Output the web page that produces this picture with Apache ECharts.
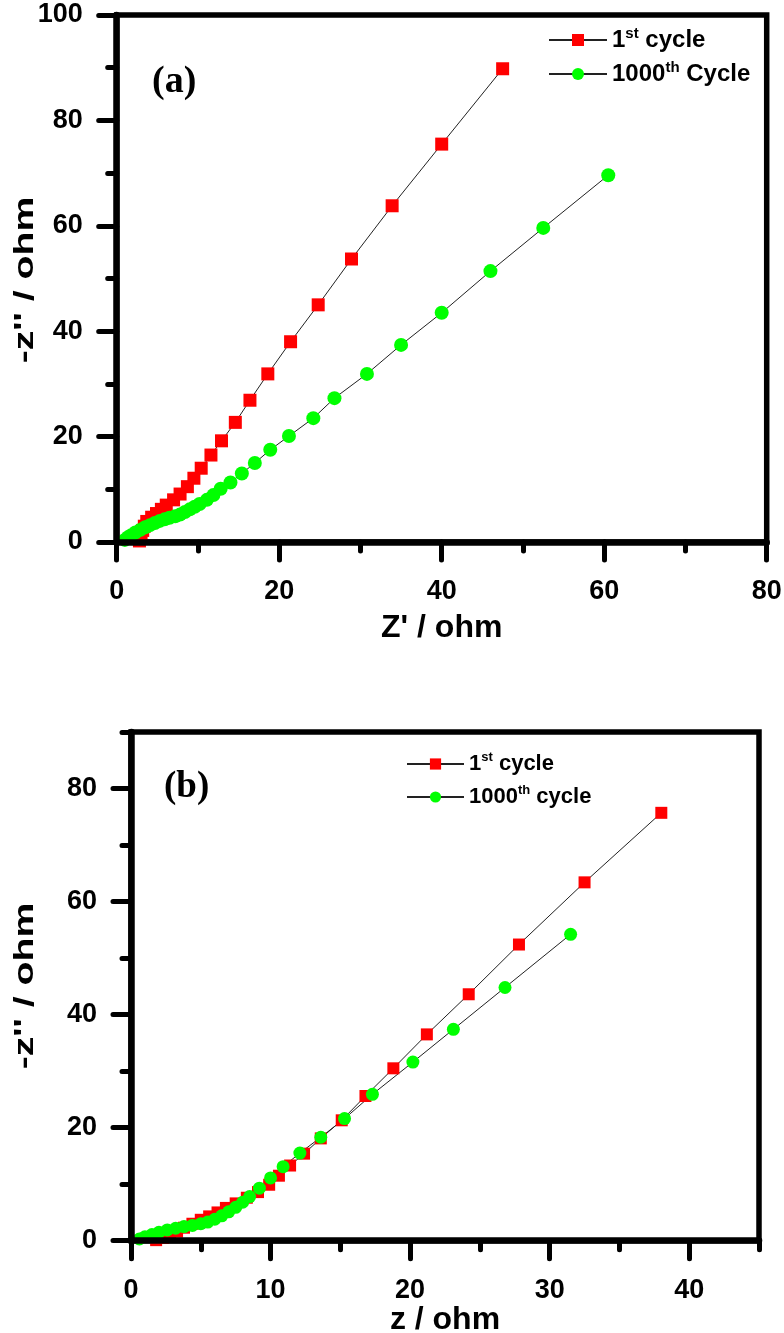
<!DOCTYPE html>
<html>
<head>
<meta charset="utf-8">
<script src="https://cdn.jsdelivr.net/npm/echarts@6/dist/echarts.min.js"></script>
<style>
html,body{margin:0;padding:0;background:#fff;}
#c{width:784px;height:1333px;}
</style>
</head>
<body>
<div id="c"></div>
<script>
// ---- Panel (a) data ----
var a1X = [2.8, 2.9, 3.0, 3.2, 3.4, 3.7, 4.3, 4.9, 5.5, 6.1, 7.0, 7.8, 8.7, 9.5, 10.4, 11.6, 12.9, 14.6, 16.4, 18.6, 21.4, 24.8, 28.9, 33.9, 40.0, 47.5];
var a1Y = [0.2, 0.8, 1.5, 2.2, 3.0, 3.9, 4.7, 5.4, 6.2, 7.0, 8.0, 9.1, 10.5, 12.1, 14.0, 16.5, 19.2, 22.7, 26.9, 31.9, 38.0, 45.0, 53.7, 63.8, 75.5, 89.8];
var a2X = [1.0, 1.4, 1.8, 2.3, 2.9, 3.5, 4.1, 4.7, 5.3, 5.9, 6.5, 7.2, 7.8, 8.4, 9.0, 9.6, 10.2, 11.1, 11.9, 12.8, 14.0, 15.4, 17.0, 18.9, 21.2, 24.2, 26.8, 30.8, 35.0, 40.0, 46.0, 52.5, 60.5];
var a2Y = [0.4, 0.9, 1.3, 1.8, 2.3, 2.8, 3.2, 3.6, 4.0, 4.3, 4.6, 4.9, 5.2, 5.7, 6.2, 6.7, 7.2, 8.0, 8.9, 10.1, 11.3, 13.0, 15.0, 17.5, 20.1, 23.5, 27.3, 31.9, 37.4, 43.5, 51.4, 59.6, 69.6];
// ---- Panel (b) data ----
var b1X = [1.8, 2.3, 2.8, 3.3, 3.8, 4.4, 5.0, 5.6, 6.2, 6.8, 7.5, 8.3, 9.1, 9.9, 10.6, 11.4, 12.4, 13.6, 15.1, 16.8, 18.8, 21.2, 24.2, 27.8, 32.5, 38.0];
var b1Y = [0.1, 0.5, 1.0, 1.6, 2.3, 3.0, 3.7, 4.3, 5.0, 5.8, 6.6, 7.6, 8.6, 9.9, 11.5, 13.3, 15.4, 18.1, 21.3, 25.6, 30.5, 36.5, 43.6, 52.4, 63.4, 75.7];
var b2X = [0.6, 1.0, 1.5, 2.0, 2.6, 3.2, 3.8, 4.4, 5.0, 5.5, 6.0, 6.5, 7.0, 7.5, 8.0, 8.5, 9.2, 10.0, 10.9, 12.1, 13.6, 15.3, 17.3, 20.2, 23.1, 26.8, 31.5];
var b2Y = [0.3, 0.7, 1.1, 1.5, 1.9, 2.2, 2.5, 2.7, 3.0, 3.3, 3.8, 4.4, 5.1, 5.9, 6.8, 7.8, 9.3, 11.1, 13.1, 15.5, 18.3, 21.6, 25.9, 31.6, 37.4, 44.8, 54.2];

// ---- ticks / labels ----
var xTicksA = [0, 20, 40, 60, 80];
var yTicksA = [0, 20, 40, 60, 80, 100];
var xTicksB = [0, 10, 20, 30, 40];
var yTicksB = [0, 20, 40, 60, 80];
var rangeA = {xMax: 80, yMax: 100, xStep: 20, yStep: 20};
var rangeB = {xMax: 45, yMax: 90, xStep: 10, yStep: 20};

var seriesNames = ['1st cycle (a)', '1000th Cycle (a)', '1st cycle (b)', '1000th cycle (b)'];
var legendRich = {
  '1st cycle (a)': '{n|1}{s|st}{n| cycle}',
  '1000th Cycle (a)': '{n|1000}{s|th}{n| Cycle}',
  '1st cycle (b)': '{m|1}{t|st}{m| cycle}',
  '1000th cycle (b)': '{m|1000}{t|th}{m| cycle}'
};
var axisTitles = {ax: "Z' / ohm", ay: "-z'' / ohm", bx: 'z / ohm', by: "-z'' / ohm"};
var panelLabels = ['(a)', '(b)'];

function pairs(xs, ys) { return xs.map(function (x, i) { return [x, ys[i]]; }); }

var FONT = 'Liberation Sans, Arial, sans-serif';

function mainAxis(gi, max, step, ticks, name, nameGap, isY) {
  return {
    type: 'value', gridIndex: gi, min: 0, max: max, interval: step,
    name: name, nameLocation: 'middle', nameGap: nameGap,
    nameTextStyle: {fontFamily: FONT, fontWeight: 'bold', fontSize: 32, color: '#000'},
    axisLine: {show: true, onZero: false, lineStyle: {color: '#000', width: 6.5}},
    axisTick: {show: true, length: 18, customValues: ticks, lineStyle: {color: '#000', width: 5, cap: 'round'}},
    minorTick: {show: false},
    splitLine: {show: false},
    axisLabel: {customValues: ticks, fontFamily: FONT, fontWeight: 'bold', fontSize: 27, color: '#000', margin: isY ? 34 : 36},
    z: 5
  };
}
function minorAxis(gi, max, step, pos) {
  return {
    type: 'value', gridIndex: gi, min: 0, max: max, interval: step / 2, position: pos, offset: 0,
    axisLine: {show: false},
    axisTick: {show: true, length: 9, lineStyle: {color: '#000', width: 5, cap: 'round'}},
    axisLabel: {show: false},
    splitLine: {show: false},
    z: 4
  };
}

function lineSeries(name, data, xi, symbol, size, color) {
  return {
    name: name, type: 'line', xAxisIndex: xi, yAxisIndex: xi, data: data,
    symbol: symbol, symbolSize: size, showSymbol: true,
    lineStyle: {color: '#222', width: 1},
    itemStyle: {color: color},
    emphasis: {disabled: true},
    z: 3
  };
}

function yTitle(text, cx, cy) {
  return {
    type: 'text', x: cx, y: cy, rotation: Math.PI / 2, scaleX: 1.4, scaleY: 1,
    style: {text: text, font: 'bold 28px "Liberation Sans", Arial, sans-serif', fill: '#000', align: 'center', verticalAlign: 'middle'}
  };
}

var chart = echarts.init(document.getElementById('c'), null, {renderer: 'canvas'});
chart.setOption({
  animation: false,
  backgroundColor: '#fff',
  grid: [
    {left: 116.7, top: 15, width: 650, height: 527, show: true, borderColor: '#000', borderWidth: 5.5, containLabel: false, outerBoundsMode: 'none'},
    {left: 131, top: 732, width: 628, height: 508.7, show: true, borderColor: '#000', borderWidth: 5.5, containLabel: false, outerBoundsMode: 'none'}
  ],
  xAxis: [
    mainAxis(0, rangeA.xMax, rangeA.xStep, xTicksA, axisTitles.ax, 70, false),
    mainAxis(1, rangeB.xMax, rangeB.xStep, xTicksB, axisTitles.bx, 61, false),
    minorAxis(0, rangeA.xMax, rangeA.xStep, 'bottom'),
    minorAxis(1, rangeB.xMax, rangeB.xStep, 'bottom')
  ],
  yAxis: [
    mainAxis(0, rangeA.yMax, rangeA.yStep, yTicksA, '', 0, true),
    mainAxis(1, rangeB.yMax, rangeB.yStep, yTicksB, '', 0, true),
    minorAxis(0, rangeA.yMax, rangeA.yStep, 'left'),
    minorAxis(1, rangeB.yMax, rangeB.yStep, 'left')
  ],
  legend: [
    {
      data: [seriesNames[0], seriesNames[1]], orient: 'vertical', left: 548, top: 26, padding: 0,
      itemWidth: 58, itemHeight: 15, itemGap: 8, selectedMode: false,
      formatter: function (n) { return legendRich[n]; },
      textStyle: {
        color: '#000',
        rich: {
          n: {fontFamily: FONT, fontWeight: 'bold', fontSize: 24, lineHeight: 28, color: '#000'},
          s: {fontFamily: FONT, fontWeight: 'bold', fontSize: 15, verticalAlign: 'top', color: '#000'}
        }
      }
    },
    {
      data: [seriesNames[2], seriesNames[3]], orient: 'vertical', left: 406, top: 751, padding: 0,
      itemWidth: 57, itemHeight: 14, itemGap: 9, selectedMode: false,
      formatter: function (n) { return legendRich[n]; },
      textStyle: {
        color: '#000',
        rich: {
          m: {fontFamily: FONT, fontWeight: 'bold', fontSize: 22, lineHeight: 26, color: '#000'},
          t: {fontFamily: FONT, fontWeight: 'bold', fontSize: 13, verticalAlign: 'top', color: '#000'}
        }
      }
    }
  ],
  graphic: [
    {type: 'text', left: 152, top: 63, style: {text: panelLabels[0], font: 'bold 38px "Liberation Serif", "Times New Roman", serif', fill: '#000'}},
    {type: 'text', left: 164, top: 769, style: {text: panelLabels[1], font: 'bold 37px "Liberation Serif", "Times New Roman", serif', fill: '#000'}},
    yTitle(axisTitles.ay, 25, 280),
    yTitle(axisTitles.by, 25, 986)
  ],
  series: [
    lineSeries(seriesNames[0], pairs(a1X, a1Y), 0, 'rect', 13, '#ff0000'),
    lineSeries(seriesNames[1], pairs(a2X, a2Y), 0, 'circle', 14, '#00ff00'),
    lineSeries(seriesNames[2], pairs(b1X, b1Y), 1, 'rect', 12, '#ff0000'),
    lineSeries(seriesNames[3], pairs(b2X, b2Y), 1, 'circle', 13, '#00ff00')
  ]
});
</script>
</body>
</html>
